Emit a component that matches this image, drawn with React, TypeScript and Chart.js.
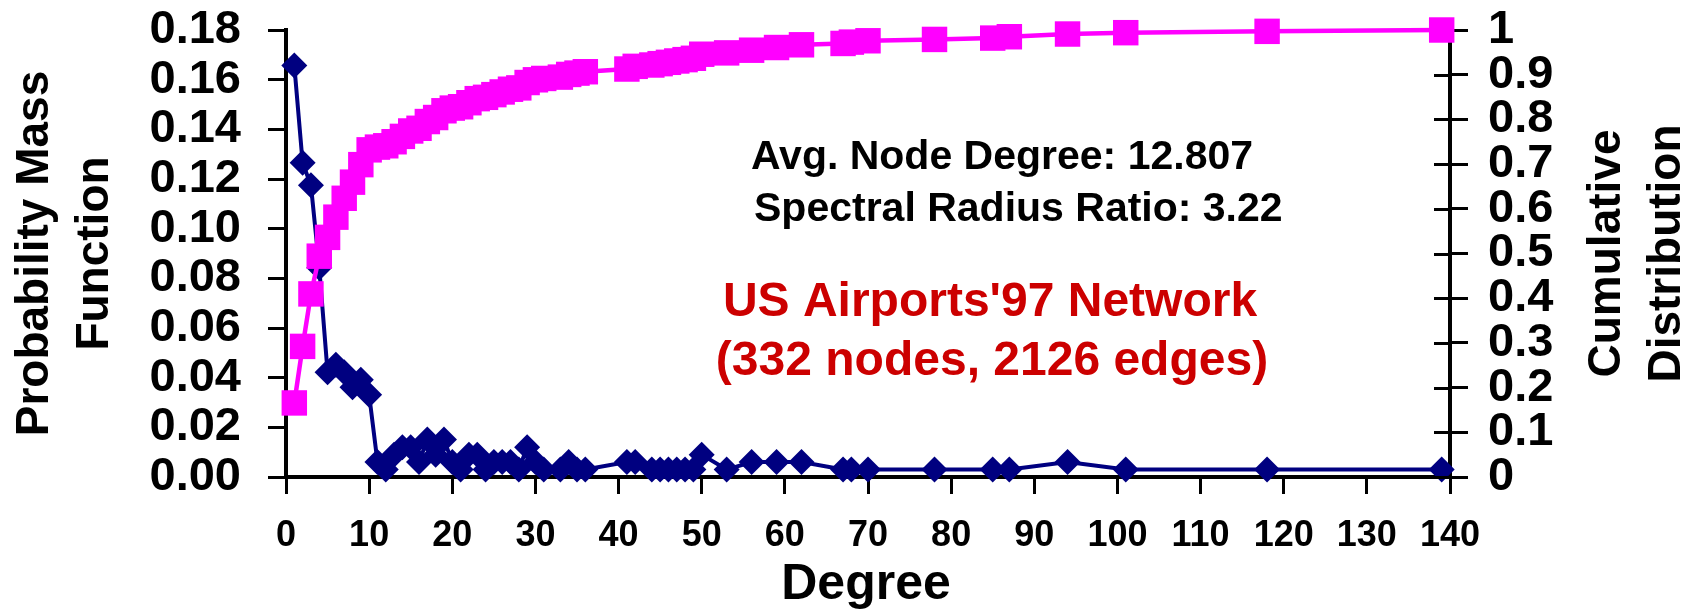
import React, { useEffect, useRef } from "react";
import { Chart, registerables } from "chart.js";

Chart.register(...registerables);

// Degree values present in the network
const degrees = [
  1, 2, 3, 4, 5, 6, 7, 8, 9, 10,
  11, 12, 13, 14, 15, 16, 17, 18, 19, 20,
  21, 22, 23, 24, 25, 26, 27, 28, 29, 30,
  31, 33, 34, 35, 36, 41, 42, 44, 45, 46,
  47, 48, 49, 50, 53, 56, 59, 62, 67, 68,
  70, 78, 85, 87, 94, 101, 118, 139,
];

// Probability mass function (left axis)
const pmf = [
  0.1657, 0.1265, 0.1175, 0.0843, 0.0422, 0.0452, 0.0422, 0.0361, 0.0392, 0.0331,
  0.006, 0.003, 0.009, 0.012, 0.012, 0.006, 0.0151, 0.009, 0.0151, 0.006,
  0.003, 0.009, 0.009, 0.003, 0.006, 0.006, 0.006, 0.003, 0.012, 0.006,
  0.003, 0.003, 0.006, 0.003, 0.003, 0.006, 0.006, 0.003, 0.003, 0.003,
  0.003, 0.003, 0.003, 0.009, 0.003, 0.006, 0.006, 0.006, 0.003, 0.003,
  0.003, 0.003, 0.003, 0.003, 0.006, 0.003, 0.003, 0.003,
];

// Cumulative distribution (right axis)
const cdf = [
  0.1657, 0.2922, 0.4096, 0.494, 0.5361, 0.5813, 0.6235, 0.6596, 0.6988, 0.7319,
  0.738, 0.741, 0.75, 0.762, 0.7741, 0.7801, 0.7952, 0.8042, 0.8193, 0.8253,
  0.8283, 0.8373, 0.8464, 0.8494, 0.8554, 0.8614, 0.8675, 0.8705, 0.8825, 0.8886,
  0.8916, 0.8946, 0.9006, 0.9036, 0.9066, 0.9127, 0.9187, 0.9217, 0.9247, 0.9277,
  0.9307, 0.9337, 0.9367, 0.9458, 0.9488, 0.9548, 0.9608, 0.9669, 0.9699, 0.9729,
  0.9759, 0.9789, 0.9819, 0.9849, 0.991, 0.994, 0.997, 1.0,
];

const xTitle = "Degree";
const leftTitle = ["Probability Mass", "Function"];
const rightTitle = ["Cumulative", "Distribution"];
const infoLines = ["Avg. Node Degree: 12.807", "Spectral Radius Ratio: 3.22"];
const networkLines = ["US Airports'97 Network", "(332 nodes, 2126 edges)"];

const FONT = "'Liberation Sans', Arial, Helvetica, sans-serif";

export default function App() {
  const ref = useRef<HTMLCanvasElement | null>(null);

  useEffect(() => {
    const canvas = ref.current;
    if (!canvas) return;

    const overlay = {
      id: "overlay",
      afterDraw(chart: any) {
        const ctx = chart.ctx as CanvasRenderingContext2D;
        const area = chart.chartArea;
        ctx.save();
        ctx.fillStyle = "#000";
        ctx.textBaseline = "alphabetic";

        // axis titles (read bottom to top)
        ctx.font = `bold 46px ${FONT}`;
        ctx.textAlign = "center";
        const cy = (area.top + area.bottom) / 2;
        const leftBase = [48, 108];
        leftTitle.forEach((t, i) => {
          ctx.save();
          ctx.translate(leftBase[i], cy);
          ctx.rotate(-Math.PI / 2);
          ctx.fillText(t, 0, 0);
          ctx.restore();
        });
        const rightBase = [1620, 1680];
        rightTitle.forEach((t, i) => {
          ctx.save();
          ctx.translate(rightBase[i], cy);
          ctx.rotate(-Math.PI / 2);
          ctx.fillText(t, 0, 0);
          ctx.restore();
        });

        // x title
        ctx.font = `bold 50px ${FONT}`;
        ctx.fillText(xTitle, (area.left + area.right) / 2 - 2, 599);

        // info text
        ctx.font = `bold 41px ${FONT}`;
        ctx.textAlign = "left";
        ctx.fillText(infoLines[0], 751, 169);
        ctx.fillText(infoLines[1], 754, 221);

        // network text
        ctx.fillStyle = "#CC0000";
        ctx.font = `bold 48px ${FONT}`;
        ctx.textAlign = "center";
        ctx.fillText(networkLines[0], 990, 316);
        ctx.fillText(networkLines[1], 992, 375);

        // inward ticks on right axis
        const y1 = chart.scales.y1;
        ctx.strokeStyle = "#000";
        ctx.lineWidth = 3;
        y1.ticks.forEach((tk: any) => {
          if (tk.value >= 1) return;
          const py = Math.round(y1.getPixelForValue(tk.value)) + 0.5;
          ctx.beginPath();
          ctx.moveTo(area.right - 16, py);
          ctx.lineTo(area.right, py);
          ctx.stroke();
        });
        ctx.restore();
      },
    };

    const tickFont = (size: number) => ({ family: FONT, size, weight: "bold" as const, lineHeight: 1 });

    const chart = new Chart(canvas, {
      type: "scatter",
      data: {
        datasets: [
          {
            label: "Cumulative Distribution",
            data: degrees.map((d, i) => ({ x: d, y: cdf[i] })),
            yAxisID: "y1",
            showLine: true,
            borderColor: "#FF00FF",
            backgroundColor: "#FF00FF",
            borderWidth: 4.5,
            pointStyle: "rect",
            pointRadius: 18,
            pointBorderWidth: 0,
            pointBackgroundColor: "#FF00FF",
            pointBorderColor: "#FF00FF",
            tension: 0,
            order: 0,
            clip: false as any,
          },
          {
            label: "Probability Mass Function",
            data: degrees.map((d, i) => ({ x: d, y: pmf[i] })),
            yAxisID: "y",
            showLine: true,
            borderColor: "#000080",
            backgroundColor: "#000080",
            borderWidth: 4,
            pointStyle: "rectRot",
            pointRadius: 13,
            pointBorderWidth: 0,
            pointBackgroundColor: "#000080",
            pointBorderColor: "#000080",
            tension: 0,
            order: 1,
            clip: false as any,
          },
        ],
      },
      options: {
        animation: false,
        responsive: false,
        devicePixelRatio: 1,
        layout: { padding: { top: 30, left: 0, right: 0, bottom: 0 } },
        plugins: { legend: { display: false }, tooltip: { enabled: false } },
        scales: {
          x: {
            type: "linear",
            position: "bottom",
            min: 0,
            max: 140,
            ticks: {
              stepSize: 10,
              color: "#000",
              font: tickFont(36),
              padding: 24,
              maxRotation: 0,
              autoSkip: false,
            },
            grid: { drawOnChartArea: false, drawTicks: true, tickLength: 17, color: "#000", lineWidth: 3 },
            border: { display: true, color: "#000", width: 4 },
            afterFit: (s: any) => {
              s.height = 139;
              s.paddingLeft = 0;
              s.paddingRight = 0;
            },
          },
          y: {
            type: "linear",
            position: "left",
            min: 0,
            max: 0.18,
            ticks: {
              stepSize: 0.02,
              color: "#000",
              font: tickFont(47),
              padding: 27,
              autoSkip: false,
              callback: (v: any) => Number(v).toFixed(2),
            },
            grid: { drawOnChartArea: false, drawTicks: true, tickLength: 18, color: "#000", lineWidth: 3 },
            border: { display: true, color: "#000", width: 4 },
            afterFit: (s: any) => {
              s.width = 286;
              s.paddingTop = 0;
              s.paddingBottom = 0;
            },
          },
          y1: {
            type: "linear",
            position: "right",
            min: 0,
            max: 1,
            ticks: {
              stepSize: 0.1,
              color: "#000",
              font: tickFont(47),
              padding: 20,
              autoSkip: false,
              callback: (v: any) => {
                const n = Math.round(Number(v) * 10) / 10;
                return n === 0 || n === 1 ? String(n) : n.toFixed(1);
              },
            },
            grid: { drawOnChartArea: false, drawTicks: true, tickLength: 18, color: "#000", lineWidth: 3 },
            border: { display: true, color: "#000", width: 4 },
            afterFit: (s: any) => {
              s.width = 240;
              s.paddingTop = 0;
              s.paddingBottom = 0;
            },
          },
        },
      },
      plugins: [overlay],
    });

    return () => chart.destroy();
  }, []);

  return (
    <div style={{ position: "fixed", left: 0, top: 0, width: 1690, height: 616, background: "#fff" }}>
      <canvas ref={ref} width={1690} height={616} style={{ display: "block", width: 1690, height: 616 }} />
    </div>
  );
}
